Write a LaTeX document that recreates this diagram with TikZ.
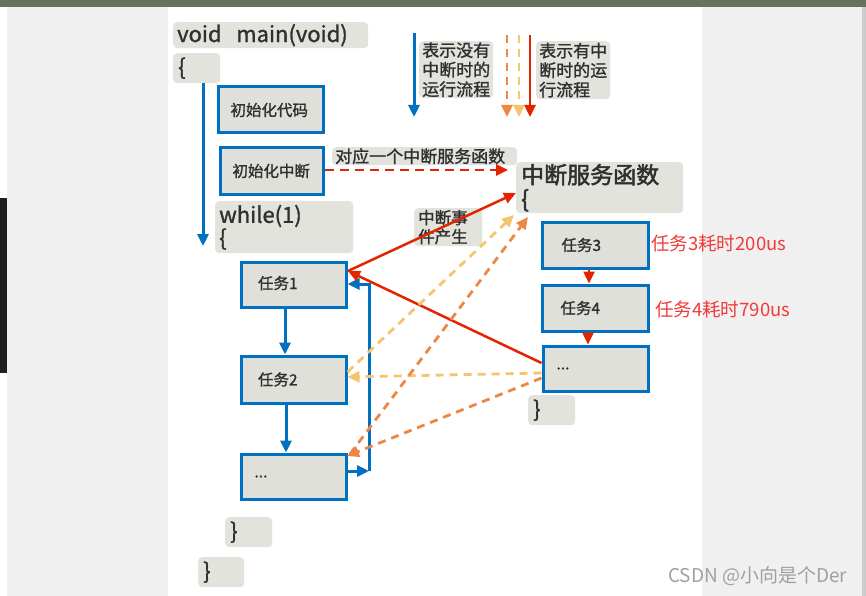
\documentclass[tikz,border=0pt]{standalone}
\usepackage{fontspec}
\setmainfont{Noto Sans CJK SC}[FakeBold=1.3]
\newfontfamily\plainfont{Noto Sans CJK SC}
\usetikzlibrary{arrows.meta,calc}
\definecolor{fblue}{HTML}{0070C0}
\definecolor{fred}{HTML}{E32400}
\definecolor{fyellow}{HTML}{F4C56E}
\definecolor{forange}{HTML}{EF8645}
\definecolor{boxfill}{HTML}{DFE0D9}
\definecolor{lblfill}{HTML}{E2E3DD}
\definecolor{ink}{HTML}{303030}
\definecolor{note}{HTML}{F23A3A}
\definecolor{panel}{HTML}{F0F0F0}
\definecolor{topbar}{HTML}{66735A}
\definecolor{mark}{HTML}{A0A0A0}

\begin{document}
\begin{tikzpicture}[x=1pt,y=-1pt,
  task/.style={draw=fblue,line width=3pt,fill=boxfill,anchor=north west,align=left,
    inner ysep=0pt,text=ink,font=\fontsize{15.5}{18}\selectfont},
  lbl/.style={fill=lblfill,rounded corners=4pt,anchor=north west,align=left,
    inner ysep=0pt,text=ink},
  tipbig/.style={-{Triangle[length=12pt,width=11pt]}},
  barrow/.style={draw=fblue,line width=3pt,tipbig},
  rarrow/.style={draw=fred,line width=2.5pt,tipbig},
  dashy/.style={line width=2.8pt,dash pattern=on 8pt off 6pt,tipbig},
  yarrow/.style={draw=fyellow,dashy},
  oarrow/.style={draw=forange,dashy},
  notetext/.style={anchor=west,text=note,inner sep=0pt,font=\plainfont\fontsize{18.5}{22}\selectfont}
]
% page background: top bar, side panels, white sheet
\useasboundingbox (0,0) rectangle (866,596);
\fill[white] (0,0) rectangle (866,596);
\fill[topbar] (0,0) rectangle (866,7);
\fill[panel] (7,7) rectangle (168,596);
\fill[panel] (702,7) rectangle (862,596);
\fill[black!88] (0,198) rectangle (7,373);
\fill[black!20] (862,7) rectangle (866,596);

% code skeleton labels
\node[lbl,font=\fontsize{22}{24}\selectfont,inner xsep=4pt,text width=187pt,minimum height=26pt] (vm) at (173,22) {void\ \ main(void)};
\node[lbl,font=\fontsize{22}{24}\selectfont,inner xsep=5pt,text width=37pt,minimum height=30pt] (ob1) at (173,53) {\{};
\node[lbl,font=\fontsize{22}{23}\selectfont,inner xsep=4pt,text width=130pt,minimum height=52pt] (wh) at (215,201) {while(1)\\\{};
\node[lbl,font=\fontsize{22}{24}\selectfont,inner xsep=5pt,text width=37pt,minimum height=30pt] (cb1) at (528,395) {\}};
\node[lbl,font=\fontsize{22}{24}\selectfont,inner xsep=5pt,text width=37pt,minimum height=30pt] (cb2) at (225,517) {\}};
\node[lbl,font=\fontsize{22}{24}\selectfont,inner xsep=5pt,text width=36pt,minimum height=30pt] (cb3) at (198,557) {\}};

% legend and notes
\node[lbl,font=\fontsize{17}{19.5}\selectfont,inner xsep=3pt,text width=68pt,minimum height=57pt] (leg1) at (419,41) {表示没有\\中断时的\\运行流程};
\node[lbl,font=\fontsize{17}{19.5}\selectfont,inner xsep=3pt,text width=68pt,minimum height=58pt] (leg2) at (536,41) {表示有中\\断时的运\\行流程};
\node[lbl,font=\fontsize{17}{18}\selectfont,inner xsep=3pt,text width=179pt,minimum height=18pt] (corr) at (332,147) {对应一个中断服务函数};
\node[lbl,font=\fontsize{16.5}{19}\selectfont,inner xsep=4pt,text width=60pt,minimum height=38pt] (evt) at (414,208) {中断事\\件产生};
\node[lbl,font=\fontsize{23}{24}\selectfont\addfontfeatures{FakeBold=2.2},inner xsep=5pt,text width=157pt,minimum height=51pt] (isr) at (516,162) {中断服务函数\\\{};

% task boxes
\node[task,inner xsep=12.5pt,text width=80pt,minimum height=46pt] (init1) at (216.5,85.5) {初始化代码};
\node[task,inner xsep=12.5pt,text width=78pt,minimum height=46pt] (init2) at (218.5,146.5) {初始化中断};
\node[task,inner xsep=17pt,text width=71pt,minimum height=45pt] (t1) at (239.5,260.5) {任务1\rule[-4pt]{0pt}{0pt}};
\node[task,inner xsep=17pt,text width=71pt,minimum height=47pt] (t2) at (239.5,354.5) {任务2};
\node[task,inner xsep=13.5pt,text width=78pt,minimum height=45pt] (d1) at (239.5,452.5) {...};
\node[task,inner xsep=19.5pt,text width=67pt,minimum height=46pt] (t3) at (540.5,220.5) {任务3};
\node[task,inner xsep=18.5pt,text width=69pt,minimum height=46pt] (t4) at (540.5,283.5) {任务4};
\node[task,inner xsep=13.5pt,text width=78pt,minimum height=45pt] (d2) at (541.5,344.5) {...};

% timing notes
\node[notetext] (n3) at (651,243) {任务3耗时200us};
\node[notetext] (n4) at (655,309) {任务4耗时790us};

% legend arrows
\coordinate (lbA) at (414,33);  \coordinate (lbB) at (414,117);
\coordinate (loA) at (507,35);  \coordinate (loB) at (507,117);
\coordinate (lyA) at (519,35);  \coordinate (lyB) at (519,117);
\coordinate (lrA) at (530,35);  \coordinate (lrB) at (530,117);
\draw[barrow] (lbA) -- (lbB);
\draw[oarrow] (loA) -- (loB);
\draw[yarrow] (lyA) -- (lyB);
\draw[rarrow] (lrA) -- (lrB);

% normal flow
\coordinate (flowEnd) at (203,246);
\draw[barrow] (ob1.south -| flowEnd) -- (flowEnd);
\draw[barrow] (t1.south -| 285,0) -- (t2.north -| 285,0);
\draw[barrow] (t2.south -| 286,0) -- (d1.north -| 286,0);
\coordinate (loopB) at (369,471);
\coordinate (loopT) at (369,284);
\draw[barrow] (d1.east |- loopB) -- (loopB);
\draw[barrow] (loopB) -- (loopT) -- (t1.east |- loopT);

% interrupt service routine
\draw[rarrow,dash pattern=on 9pt off 6pt] (init2.east |- 0,170) -- (508,170);
\draw[rarrow] (t3.south -| 589,0) -- (t4.north -| 589,0);
\draw[rarrow] (t4.south -| 588,0) -- (d2.north -| 588,0);

% jumps into and back from the interrupt
\coordinate (hit) at (348,271);
\draw[rarrow] (hit) -- (isr.west |- 0,193);
\draw[rarrow] (d2.west |- 0,363) -- (hit);
\draw[yarrow] (t2.east |- 0,372) -- (514,215);
\draw[yarrow] (d2.west |- 0,373) -- (t2.east |- 0,377);
\draw[oarrow] (350,454) -- (528,217);
\draw[oarrow] (d2.west |- 0,378) -- (347,456);

% watermark
\node[anchor=west,inner sep=0pt,text=mark,font=\plainfont\fontsize{19}{22}\selectfont] (wm) at (668,576) {CSDN @小向是个Der};
\end{tikzpicture}
\end{document}
